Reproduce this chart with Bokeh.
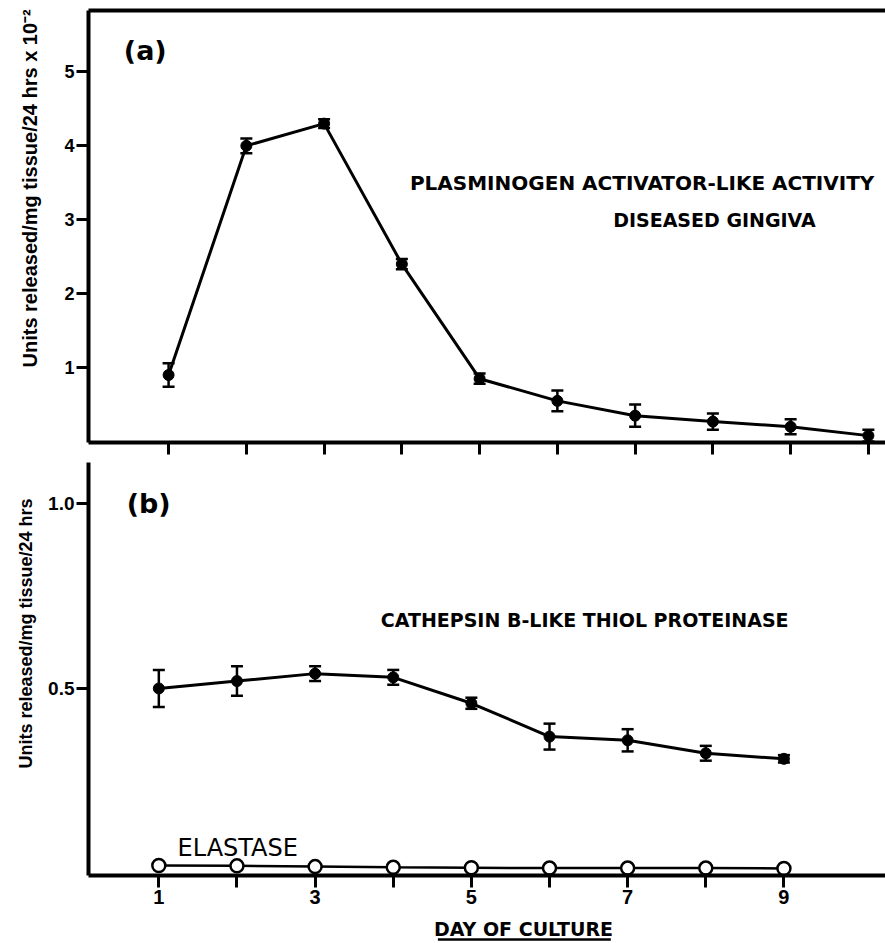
from math import pi
from bokeh.plotting import figure
from bokeh.layouts import column
from bokeh.models import (Range1d, LinearAxis, FixedTicker, Whisker, Title,
                          ColumnDataSource, Label, PrintfTickFormatter,
                          CustomLabelingPolicy)
from bokeh.core.properties import value
from bokeh.embed import file_html
from bokeh.resources import INLINE

FONT = "Liberation Sans"
WIDE = "DejaVu Sans"

# ---------------- data ----------------
days_a = [1, 2, 3, 4, 5, 6, 7, 8, 9, 10]
plasminogen = [0.9, 4.0, 4.3, 2.4, 0.85, 0.55, 0.35, 0.27, 0.2, 0.08]
plasminogen_err = [0.16, 0.1, 0.06, 0.07, 0.07, 0.14, 0.15, 0.11, 0.1, 0.08]

days_b = [1, 2, 3, 4, 5, 6, 7, 8, 9]
cathepsin = [0.50, 0.52, 0.54, 0.53, 0.46, 0.37, 0.36, 0.325, 0.31]
cathepsin_err = [0.05, 0.04, 0.02, 0.02, 0.015, 0.035, 0.03, 0.02, 0.01]
elastase = [0.022, 0.021, 0.019, 0.017, 0.016, 0.015, 0.015, 0.015, 0.014]

yticks_a = [1, 2, 3, 4, 5]
yticks_b = [0.5, 1.0]


def style_axis(ax, label_size="18px"):
    ax.axis_line_width = 4
    ax.axis_line_color = "black"
    ax.major_tick_line_width = 3
    ax.major_tick_line_color = "black"
    ax.major_tick_out = 12
    ax.major_tick_in = 0
    ax.minor_tick_line_color = None
    ax.major_label_text_font = FONT
    ax.major_label_text_font_style = "bold"
    ax.major_label_text_font_size = label_size
    ax.major_label_text_color = "black"
    ax.major_label_standoff = 2


def add_errorbars(p, xs, ys, errs):
    src = ColumnDataSource(dict(x=xs,
                                upper=[y + e for y, e in zip(ys, errs)],
                                lower=[y - e for y, e in zip(ys, errs)]))
    w = Whisker(source=src, base="x", upper="upper", lower="lower",
                line_width=2.5, line_color="black")
    for h in (w.upper_head, w.lower_head):
        h.size = 12
        h.line_width = 2.5
        h.line_color = "black"
    p.add_layout(w)


def note(p, x, y, text, size, bold=True, font=WIDE):
    p.add_layout(Label(x=x, y=y, text=text, text_font=font,
                       text_font_style="bold" if bold else "normal",
                       text_font_size=size, text_color="black",
                       text_align="center", text_baseline="middle"))


# ---------------- panel (a) ----------------
pa = figure(width=885, height=460,
            x_range=Range1d(-0.03, 10.22), y_range=Range1d(-0.013, 5.83),
            output_backend="svg", toolbar_location=None,
            min_border_left=88, min_border_right=0,
            min_border_top=10, min_border_bottom=15)
pa.grid.visible = False
pa.outline_line_color = None
pa.background_fill_color = "white"
pa.border_fill_color = "white"

style_axis(pa.xaxis[0], "1px")
pa.xaxis[0].ticker = FixedTicker(ticks=days_a)
pa.xaxis[0].major_label_policy = CustomLabelingPolicy(code="""
    for (const i of indices)
        indices.unset(i)
    return indices
""")
style_axis(pa.yaxis[0], "18px")
pa.yaxis[0].ticker = FixedTicker(ticks=yticks_a)

top = LinearAxis(ticker=FixedTicker(ticks=[]))
style_axis(top, "1px")
pa.add_layout(top, "above")

pa.add_layout(Title(text="Units released/mg tissue/24 hrs x 10\u207b\u00b2",
                    align="left", offset=75, standoff=37, vertical_align="top",
                    text_font=FONT, text_font_style="bold",
                    text_font_size="20px", text_color="black"), "left")

add_errorbars(pa, days_a, plasminogen, plasminogen_err)
pa.line(days_a, plasminogen, line_width=3, line_color="black")
pa.scatter(days_a, plasminogen, size=11, marker="circle",
           fill_color="black", line_color="black")

note(pa, 0.70, 5.29, "(a)", "27px")
note(pa, 7.09, 3.50, "PLASMINOGEN ACTIVATOR-LIKE ACTIVITY", "20px")
note(pa, 8.02, 3.00, "DISEASED GINGIVA", "19px")

# ---------------- panel (b) ----------------
pb = figure(width=885, height=455,
            x_range=Range1d(0.1, 10.3), y_range=Range1d(-0.005, 1.11),
            output_backend="svg", toolbar_location=None,
            min_border_left=85, min_border_right=0,
            min_border_top=2, min_border_bottom=40)
pb.grid.visible = False
pb.outline_line_color = None
pb.background_fill_color = "white"
pb.border_fill_color = "white"

style_axis(pb.xaxis[0], "20px")
pb.xaxis[0].ticker = FixedTicker(ticks=days_b)
pb.xaxis[0].major_label_policy = CustomLabelingPolicy(code="""
    for (const i of indices)
        if (i % 2 == 1)
            indices.unset(i)
    return indices
""")
style_axis(pb.yaxis[0], "19px")
pb.yaxis[0].ticker = FixedTicker(ticks=yticks_b)
pb.yaxis[0].formatter = PrintfTickFormatter(format="%.1f")

pb.add_layout(Title(text="Units released/mg tissue/24 hrs",
                    align="left", offset=107, standoff=16, vertical_align="top",
                    text_font=FONT, text_font_style="bold",
                    text_font_size="18px", text_color="black"), "left")

add_errorbars(pb, days_b, cathepsin, cathepsin_err)
pb.line(days_b, cathepsin, line_width=3, line_color="black")
pb.scatter(days_b, cathepsin, size=11, marker="circle",
           fill_color="black", line_color="black")

pb.line(days_b, elastase, line_width=2.5, line_color="black")
pb.scatter(days_b, elastase, size=13, marker="circle",
           fill_color="white", line_color="black", line_width=2.5)

note(pb, 0.87, 1.0, "(b)", "27px")
note(pb, 6.45, 0.684, "CATHEPSIN B-LIKE THIOL PROTEINASE", "19px")
note(pb, 2.01, 0.068, "ELASTASE", "24px", bold=False)

# ---------------- x-axis title strip (underlined) ----------------
pc = figure(width=885, height=28, x_range=Range1d(0, 885), y_range=Range1d(0, 28),
            output_backend="svg", toolbar_location=None,
            x_axis_type=None, y_axis_type=None,
            min_border_left=0, min_border_right=0,
            min_border_top=0, min_border_bottom=0)
pc.grid.visible = False
pc.outline_line_color = None
pc.text(x=[483], y=[15], text=["DAY OF CULTURE"], text_font=value(WIDE),
        text_font_style="bold", text_font_size="19px", text_color="black",
        text_align="center", text_baseline="middle")
pc.line(x=[388, 580], y=[4, 4], line_width=2.5, line_color="black")

layout = column(pa, pb, pc, spacing=0)
open("out.html", "w").write(file_html(layout, INLINE))
